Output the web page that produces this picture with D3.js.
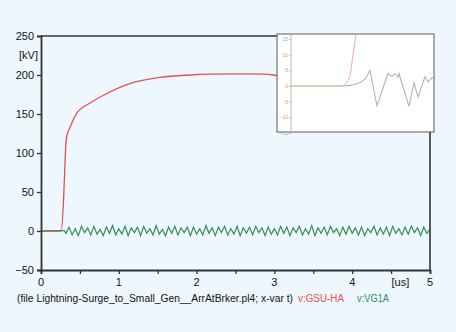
<!DOCTYPE html>
<html><head><meta charset="utf-8">
<script src="https://cdn.jsdelivr.net/npm/d3@7"></script>
<style>
html,body{margin:0;padding:0;background:#eef7fd;}
svg{display:block;font-family:"Liberation Sans",Arial,sans-serif;}
</style></head>
<body>
<svg id="c" width="456" height="332"></svg>
<script>
// ---------- data ----------
const yTicks = [-50, 0, 50, 100, 150, 200, 250];
const xTicksMajor = [0, 1, 2, 3, 4, 5];
const xTicksMinor = [0.5, 1.5, 2.5, 3.5, 4.5];
const xTickLabels = ["0", "1", "2", "3", "4", "[us]", "5"];
const caption = "(file Lightning-Surge_to_Small_Gen__ArrAtBrker.pl4; x-var t)";
const legendNames = ["v:GSU-HA", "v:VG1A"];

// red: v:GSU-HA
const redT = [0, 0.26, 0.29, 0.31, 0.32, 0.33, 0.37, 0.46, 0.63, 0.84, 1.14, 1.53, 1.92, 2.17, 2.56, 2.88, 3.07, 3.2, 3.6, 4.0, 4.5, 5.0];
const redV = [0, 0, 40, 91, 112, 121, 132, 151, 164, 176, 189, 197, 200, 201, 201.5, 201, 199, 198.7, 198.5, 198.5, 198.5, 198.5];

// green: v:VG1A  (flat start, then oscillation sampled every 0.04 us from 0.32 us)
const greenStartT = [0, 0.15, 0.16, 0.30];
const greenStartV = [0, 0, 0.6, 0.6];
const greenOscT0 = 0.32, greenOscDt = 0.04;
const greenOscV = [
 -3, 5, -5, 3, -6, 6, -2, 4, -5, 6, -4, 2, -6, 5, -3, 7, -5, 3, -4, 6,
 -6, 4, -2, 5, -6, 6, -3, 3, -5, 7, -4, 2, -6, 5, -3, 6, -5, 4, -2, 5,
 -6, 5, -4, 3, -5, 7, -3, 4, -6, 5, -2, 6, -5, 3, -4, 6, -6, 4, -3, 5,
 -5, 6, -2, 4, -6, 5, -4, 3, -5, 6, -3, 5, -6, 4, -2, 6, -5, 3, -4, 7,
 -6, 4, -3, 5, -5, 6, -2, 3, -6, 5, -4, 6, -3, 4, -5, 5, -6, 3, -2, 6,
 -5, 4, -4, 5, -6, 6, -3, 3, -5, 5, -4, 6, -2, 4, -6, 5, -3, 2];

// inset (zoomed view)
const insetYTicks = [15, 10, 5, 0, -5, -10, -15];
const insetFlatU = [0, 36.4];
const insetFlatV = [0, 0];
const insetPinkU = [36.4, 39, 41.3, 43.4, 45.5, 47];
const insetPinkV = [0, 1.2, 3.5, 10, 16.5, 22];
const insetGreyU = [36.4, 41, 44.8, 49.7, 52.4, 55.2, 60.1, 67.8, 70.6, 72.7, 74.8, 75.5, 82.5, 86, 88.8, 93.7, 95.8, 98.6, 100];
const insetGreyV = [0, 0.2, 0.5, 1.4, 2.5, 5, -6.3, 4, 3, 4, 2.8, 4, -6.5, 1.2, -3.6, 3, 1.3, 2.6, 2.7];

// ---------- chart ----------
const svg = d3.select("#c");
const L = 41, R = 430, T = 36, B = 270;
const x = d3.scaleLinear().domain([0, 5]).range([L, R]);
const y = d3.scaleLinear().domain([-50, 250]).range([B, T]);
const axisCol = "#333";
const textCol = "#141414";

// lines
const redLine = d3.line().x(d => x(d[0])).y(d => y(d[1])).curve(d3.curveMonotoneX);
const line = d3.line().x(d => x(d[0])).y(d => y(d[1]));
const redData = redT.map((t, i) => [t, redV[i]]);
const greenData = greenStartT.map((t, i) => [t, greenStartV[i]])
  .concat(greenOscV.map((v, i) => [greenOscT0 + i * greenOscDt, v]));

svg.append("path").datum(redData).attr("d", redLine)
  .attr("fill", "none").attr("stroke", "#e8514b").attr("stroke-width", 1.3);
svg.append("path").datum(greenData).attr("d", line)
  .attr("fill", "none").attr("stroke", "#2f8f55").attr("stroke-width", 1.2);

// frame
svg.append("line").attr("x1", L).attr("x2", R).attr("y1", T).attr("y2", T).attr("stroke", axisCol).attr("stroke-width", 1.6);
svg.append("line").attr("x1", R).attr("x2", R).attr("y1", T).attr("y2", B).attr("stroke", axisCol).attr("stroke-width", 1.6);

// y axis
const yAxis = d3.axisLeft(y).tickValues(yTicks).tickSize(4).tickPadding(3).tickFormat(d3.format("d"));
const gy = svg.append("g").attr("transform", `translate(${L},0)`).call(yAxis);
gy.select(".domain").attr("stroke", axisCol).attr("stroke-width", 1.8);
gy.selectAll(".tick line").attr("stroke", axisCol).attr("stroke-width", 1.3);
gy.selectAll(".tick text").attr("fill", textCol).style("font-size", "11px");
svg.append("text").attr("x", 38).attr("y", 59).attr("text-anchor", "end")
  .attr("fill", textCol).style("font-size", "11px").text("[kV]");

// x axis
const xAll = xTicksMajor.concat(xTicksMinor).sort((a, b) => a - b);
const xAxis = d3.axisBottom(x).tickValues(xAll).tickSize(4).tickPadding(4).tickFormat("");
const gx = svg.append("g").attr("transform", `translate(0,${B})`).call(xAxis);
gx.select(".domain").attr("stroke", axisCol).attr("stroke-width", 1.8);
gx.selectAll(".tick line").attr("stroke", axisCol).attr("stroke-width", 1.3);
const xLabPos = [0, 1, 2, 3, 4, 4.62, 5];
svg.append("g").selectAll("text").data(xTickLabels).join("text")
  .attr("x", (d, i) => x(xLabPos[i])).attr("y", 286).attr("text-anchor", "middle")
  .attr("fill", textCol).style("font-size", "11px").text(d => d);

// caption + legend
svg.append("text").attr("x", 17).attr("y", 302).attr("fill", textCol)
  .attr("textLength", 276).attr("lengthAdjust", "spacingAndGlyphs")
  .style("font-size", "10px").text(caption);
svg.append("text").attr("x", 298).attr("y", 302).attr("fill", "#e8514b")
  .attr("textLength", 46).attr("lengthAdjust", "spacingAndGlyphs")
  .style("font-size", "10px").text(legendNames[0]);
svg.append("text").attr("x", 357).attr("y", 302).attr("fill", "#2f8f55")
  .attr("textLength", 32).attr("lengthAdjust", "spacingAndGlyphs")
  .style("font-size", "10px").text(legendNames[1]);

// ---------- inset ----------
const IL = 277, IR = 434, IT = 34, IB = 132;
const ig = svg.append("g");
ig.append("rect").attr("x", IL).attr("y", IT).attr("width", IR - IL).attr("height", IB - IT)
  .attr("fill", "#ffffff").attr("stroke", "#5a5a5a").attr("stroke-width", 1);
const clip = svg.append("clipPath").attr("id", "ic").append("rect")
  .attr("x", IL + 0.5).attr("y", IT + 0.5).attr("width", IR - IL - 1).attr("height", IB - IT - 1);
const ix = d3.scaleLinear().domain([0, 100]).range([291, IR]);
const iy = d3.scaleLinear().domain([-15, 15]).range([133, 39]);
const iAxis = d3.axisLeft(iy).tickValues(insetYTicks).tickSize(2).tickPadding(1).tickFormat(d3.format("d"));
const giy = ig.append("g").attr("transform", "translate(291,0)").call(iAxis);
giy.select(".domain").attr("stroke", "#b8b8b8").attr("d", `M0,${IT}V${IB}`);
giy.selectAll(".tick line").attr("stroke", "#b8b8b8");
giy.selectAll(".tick text").attr("fill", "#aaa").style("font-size", "5px");
const iline = d3.line().x(d => ix(d[0])).y(d => iy(d[1]));
const ismooth = d3.line().x(d => ix(d[0])).y(d => iy(d[1])).curve(d3.curveMonotoneX);
const ic = ig.append("g").attr("clip-path", "url(#ic)");
ic.append("path").datum(insetPinkU.map((u, i) => [u, insetPinkV[i]])).attr("d", ismooth)
  .attr("fill", "none").attr("stroke", "#eea5b4").attr("stroke-width", 1);
ic.append("path").datum(insetGreyU.map((u, i) => [u, insetGreyV[i]])).attr("d", iline)
  .attr("fill", "none").attr("stroke", "#a9baa9").attr("stroke-width", 1.1);
ic.append("path").datum(insetFlatU.map((u, i) => [u, insetFlatV[i]])).attr("d", iline)
  .attr("fill", "none").attr("stroke", "#c9c7a6").attr("stroke-width", 1.3);
</script>
</body></html>
